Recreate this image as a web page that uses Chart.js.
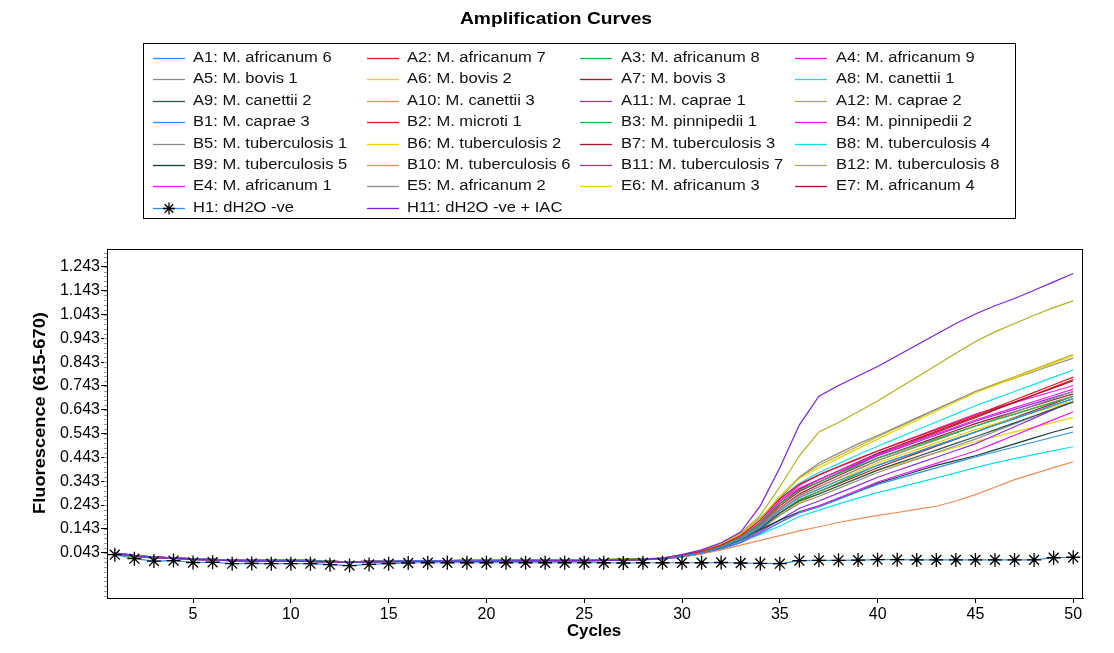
<!DOCTYPE html>
<html>
<head>
<meta charset="utf-8">
<script src="https://cdn.jsdelivr.net/npm/chart.js@4.4.1/dist/chart.umd.min.js"></script>
<style>
html,body{margin:0;padding:0;background:#fff;}
#wrap{position:relative;width:1114px;height:653px;}
</style>
</head>
<body>
<div id="wrap"><canvas id="c" width="1114" height="653"></canvas></div>
<script>
// ---------- DATA ----------
const chartTitle = "Amplification Curves";
const xTitle = "Cycles";
const yTitle = "Fluorescence (615-670)";
const cycles = [1,2,3,4,5,6,7,8,9,10,11,12,13,14,15,16,17,18,19,20,21,22,23,24,25,26,27,28,29,30,31,32,33,34,35,36,37,38,39,40,41,42,43,44,45,46,47,48,49,50];
const xTickValues = [5,10,15,20,25,30,35,40,45,50];
const yTickValues = [0.043,0.143,0.243,0.343,0.443,0.543,0.643,0.743,0.843,0.943,1.043,1.143,1.243];

const seriesNames = [
 "A1: M. africanum 6","A2: M. africanum 7","A3: M. africanum 8","A4: M. africanum 9",
 "A5: M. bovis 1","A6: M. bovis 2","A7: M. bovis 3","A8: M. canettii 1",
 "A9: M. canettii 2","A10: M. canettii 3","A11: M. caprae 1","A12: M. caprae 2",
 "B1: M. caprae 3","B2: M. microti 1","B3: M. pinnipedii 1","B4: M. pinnipedii 2",
 "B5: M. tuberculosis 1","B6: M. tuberculosis 2","B7: M. tuberculosis 3","B8: M. tuberculosis 4",
 "B9: M. tuberculosis 5","B10: M. tuberculosis 6","B11: M. tuberculosis 7","B12: M. tuberculosis 8",
 "E4: M. africanum 1","E5: M. africanum 2","E6: M. africanum 3","E7: M. africanum 4",
 "H1: dH2O -ve","H11: dH2O -ve + IAC"
];
const seriesColors = [
 "#2f8fef","#e5171f","#1fb84a","#f01cf0",
 "#8c8c8c","#ecd200","#9c1830","#12dfe8",
 "#2f5252","#f08a56","#8c2ee6","#b5ae1e",
 "#2f8fef","#e5171f","#1fb84a","#f01cf0",
 "#8c8c8c","#ecd200","#9c1830","#12dfe8",
 "#173c3c","#f08a56","#8c2ee6","#b5ae1e",
 "#f01cf0","#8c8c8c","#ecd200","#9c1830",
 "#2f8fef","#7b22d6"
];

const A1 = [0.042,0.032,0.025,0.022,0.017,0.015,0.012,0.011,0.010,0.010,0.009,0.007,0.005,0.007,0.008,0.009,0.009,0.009,0.010,0.010,0.010,0.011,0.011,0.011,0.012,0.012,0.013,0.015,
 0.017,0.028,0.043,0.066,0.100,0.150,0.220,0.275,0.310,0.345,0.378,0.410,0.438,0.466,0.494,0.522,0.550,0.578,0.606,0.634,0.662,0.690];
const A2 = [0.040,0.030,0.022,0.020,0.015,0.013,0.010,0.009,0.008,0.008,0.007,0.005,0.003,0.005,0.006,0.007,0.007,0.008,0.008,0.008,0.009,0.009,0.010,0.010,0.010,0.011,0.012,0.014,
 0.019,0.032,0.049,0.075,0.115,0.180,0.270,0.330,0.370,0.405,0.438,0.470,0.500,0.530,0.560,0.590,0.620,0.652,0.684,0.716,0.748,0.780];
const A3 = [0.038,0.028,0.021,0.019,0.016,0.014,0.011,0.010,0.012,0.012,0.011,0.007,0.004,0.006,0.008,0.009,0.010,0.010,0.011,0.011,0.012,0.012,0.012,0.013,0.013,0.014,0.015,0.017,
 0.018,0.030,0.046,0.070,0.108,0.165,0.250,0.305,0.340,0.375,0.408,0.440,0.467,0.494,0.521,0.548,0.575,0.600,0.625,0.650,0.675,0.700];
const A4 = [0.042,0.032,0.025,0.022,0.017,0.015,0.012,0.011,0.010,0.010,0.009,0.007,0.005,0.007,0.008,0.009,0.009,0.009,0.010,0.010,0.010,0.011,0.011,0.011,0.012,0.012,0.013,0.015,
 0.018,0.031,0.047,0.072,0.110,0.170,0.260,0.315,0.350,0.385,0.420,0.455,0.484,0.513,0.542,0.571,0.600,0.626,0.652,0.678,0.704,0.730];
const A5 = [0.040,0.030,0.022,0.020,0.015,0.013,0.010,0.009,0.008,0.008,0.007,0.005,0.003,0.005,0.006,0.007,0.007,0.008,0.008,0.008,0.009,0.009,0.010,0.010,0.010,0.011,0.012,0.014,
 0.017,0.029,0.044,0.068,0.103,0.155,0.230,0.285,0.320,0.357,0.394,0.430,0.459,0.488,0.517,0.546,0.575,0.604,0.633,0.662,0.691,0.720];
const A6 = [0.038,0.028,0.021,0.019,0.016,0.014,0.011,0.010,0.012,0.012,0.011,0.007,0.004,0.006,0.008,0.009,0.010,0.010,0.011,0.011,0.012,0.012,0.012,0.013,0.013,0.014,0.015,0.017,
 0.020,0.034,0.051,0.078,0.120,0.185,0.280,0.355,0.400,0.440,0.480,0.520,0.559,0.598,0.637,0.676,0.715,0.746,0.777,0.808,0.839,0.870];
const A7 = [0.042,0.032,0.025,0.022,0.017,0.015,0.012,0.011,0.010,0.010,0.009,0.007,0.005,0.007,0.008,0.009,0.009,0.009,0.010,0.010,0.010,0.011,0.011,0.011,0.012,0.012,0.013,0.015,
 0.018,0.030,0.046,0.070,0.108,0.165,0.250,0.310,0.350,0.387,0.424,0.460,0.491,0.522,0.553,0.584,0.615,0.645,0.675,0.705,0.735,0.765];
const A8 = [0.040,0.030,0.022,0.020,0.015,0.013,0.010,0.009,0.008,0.008,0.007,0.005,0.003,0.005,0.006,0.007,0.007,0.008,0.008,0.008,0.009,0.009,0.010,0.010,0.010,0.011,0.012,0.014,
 0.019,0.032,0.049,0.075,0.115,0.180,0.270,0.335,0.380,0.417,0.454,0.490,0.524,0.558,0.592,0.626,0.660,0.690,0.720,0.750,0.780,0.810];
const A9 = [0.038,0.028,0.021,0.019,0.016,0.014,0.011,0.010,0.012,0.012,0.011,0.007,0.004,0.006,0.008,0.009,0.010,0.010,0.011,0.011,0.012,0.012,0.012,0.013,0.013,0.014,0.015,0.017,
 0.017,0.028,0.042,0.064,0.097,0.145,0.210,0.260,0.290,0.323,0.356,0.390,0.418,0.446,0.474,0.502,0.530,0.559,0.588,0.617,0.646,0.675];
const A10 = [0.042,0.032,0.025,0.022,0.017,0.015,0.012,0.011,0.010,0.010,0.009,0.007,0.005,0.007,0.008,0.009,0.009,0.009,0.010,0.010,0.010,0.011,0.011,0.011,0.012,0.012,0.013,0.015,
 0.015,0.025,0.038,0.055,0.075,0.095,0.115,0.135,0.152,0.170,0.185,0.200,0.212,0.225,0.238,0.260,0.287,0.318,0.350,0.375,0.400,0.425];
const A11 = [0.040,0.030,0.022,0.020,0.015,0.013,0.010,0.009,0.008,0.008,0.007,0.005,0.003,0.005,0.006,0.007,0.007,0.008,0.008,0.008,0.009,0.009,0.010,0.010,0.010,0.011,0.012,0.014,
 0.018,0.030,0.046,0.070,0.108,0.165,0.250,0.305,0.340,0.377,0.414,0.450,0.479,0.508,0.537,0.566,0.595,0.620,0.645,0.670,0.695,0.720];
const A12 = [0.038,0.028,0.021,0.019,0.016,0.014,0.011,0.010,0.012,0.012,0.011,0.007,0.004,0.006,0.008,0.009,0.010,0.010,0.011,0.011,0.012,0.012,0.012,0.013,0.013,0.014,0.015,0.017,
 0.020,0.035,0.050,0.080,0.125,0.200,0.320,0.450,0.550,0.590,0.635,0.680,0.730,0.780,0.830,0.880,0.930,0.970,1.005,1.040,1.072,1.100];
const B1 = [0.042,0.032,0.025,0.022,0.017,0.015,0.012,0.011,0.010,0.010,0.009,0.007,0.005,0.007,0.008,0.009,0.009,0.009,0.010,0.010,0.010,0.011,0.011,0.011,0.012,0.012,0.013,0.015,
 0.016,0.026,0.039,0.058,0.085,0.125,0.170,0.210,0.235,0.267,0.299,0.330,0.353,0.376,0.399,0.422,0.445,0.466,0.487,0.508,0.529,0.550];
const B2 = [0.040,0.030,0.022,0.020,0.015,0.013,0.010,0.009,0.008,0.008,0.007,0.005,0.003,0.005,0.006,0.007,0.007,0.008,0.008,0.008,0.009,0.009,0.010,0.010,0.010,0.011,0.012,0.014,
 0.018,0.030,0.045,0.069,0.105,0.160,0.240,0.300,0.340,0.378,0.416,0.455,0.486,0.517,0.548,0.579,0.610,0.642,0.674,0.706,0.738,0.770];
const B3 = [0.038,0.028,0.021,0.019,0.016,0.014,0.011,0.010,0.012,0.012,0.011,0.007,0.004,0.006,0.008,0.009,0.010,0.010,0.011,0.011,0.012,0.012,0.012,0.013,0.013,0.014,0.015,0.017,
 0.017,0.028,0.043,0.065,0.098,0.145,0.210,0.265,0.300,0.337,0.374,0.410,0.438,0.466,0.494,0.522,0.550,0.578,0.606,0.634,0.662,0.690];
const B4 = [0.042,0.032,0.025,0.022,0.017,0.015,0.012,0.011,0.010,0.010,0.009,0.007,0.005,0.007,0.008,0.009,0.009,0.009,0.010,0.010,0.010,0.011,0.011,0.011,0.012,0.012,0.013,0.015,
 0.016,0.026,0.039,0.058,0.086,0.126,0.170,0.213,0.240,0.273,0.306,0.340,0.366,0.392,0.418,0.444,0.470,0.503,0.536,0.569,0.602,0.635];
const B5 = [0.040,0.030,0.022,0.020,0.015,0.013,0.010,0.009,0.008,0.008,0.007,0.005,0.003,0.005,0.006,0.007,0.007,0.008,0.008,0.008,0.009,0.009,0.010,0.010,0.010,0.011,0.012,0.014,
 0.020,0.034,0.052,0.080,0.120,0.190,0.270,0.360,0.420,0.460,0.500,0.535,0.572,0.609,0.646,0.683,0.720,0.748,0.776,0.804,0.832,0.860];
const B6 = [0.038,0.028,0.021,0.019,0.016,0.014,0.011,0.010,0.012,0.012,0.011,0.007,0.004,0.006,0.008,0.009,0.010,0.010,0.011,0.011,0.012,0.012,0.012,0.013,0.013,0.014,0.015,0.017,
 0.017,0.028,0.043,0.066,0.100,0.150,0.220,0.275,0.310,0.347,0.384,0.420,0.448,0.476,0.504,0.532,0.560,0.584,0.608,0.632,0.656,0.680];
const B7 = [0.042,0.032,0.025,0.022,0.017,0.015,0.012,0.011,0.010,0.010,0.009,0.007,0.005,0.007,0.008,0.009,0.009,0.009,0.010,0.010,0.010,0.011,0.011,0.011,0.012,0.012,0.013,0.015,
 0.017,0.029,0.044,0.068,0.103,0.155,0.230,0.290,0.330,0.367,0.404,0.440,0.469,0.498,0.527,0.556,0.585,0.610,0.635,0.660,0.685,0.710];
const B8 = [0.040,0.030,0.022,0.020,0.015,0.013,0.010,0.009,0.008,0.008,0.007,0.005,0.003,0.005,0.006,0.007,0.007,0.008,0.008,0.008,0.009,0.009,0.010,0.010,0.010,0.011,0.012,0.014,
 0.016,0.028,0.042,0.062,0.090,0.120,0.155,0.195,0.222,0.248,0.272,0.295,0.315,0.336,0.357,0.378,0.400,0.420,0.438,0.455,0.472,0.488];
const B9 = [0.038,0.028,0.021,0.019,0.016,0.014,0.011,0.010,0.012,0.012,0.011,0.007,0.004,0.006,0.008,0.009,0.010,0.010,0.011,0.011,0.012,0.012,0.012,0.013,0.013,0.014,0.015,0.017,
 0.017,0.030,0.045,0.068,0.100,0.140,0.180,0.215,0.240,0.270,0.300,0.335,0.360,0.385,0.410,0.430,0.450,0.475,0.500,0.525,0.550,0.572];
const B10 = [0.042,0.032,0.025,0.022,0.017,0.015,0.012,0.011,0.010,0.010,0.009,0.007,0.005,0.007,0.008,0.009,0.009,0.009,0.010,0.010,0.010,0.011,0.011,0.011,0.012,0.012,0.013,0.015,
 0.017,0.028,0.043,0.066,0.100,0.150,0.220,0.280,0.320,0.357,0.394,0.430,0.459,0.488,0.517,0.546,0.575,0.600,0.625,0.650,0.675,0.700];
const B11 = [0.040,0.030,0.022,0.020,0.015,0.013,0.010,0.009,0.008,0.008,0.007,0.005,0.003,0.005,0.006,0.007,0.007,0.008,0.008,0.008,0.009,0.009,0.010,0.010,0.010,0.011,0.012,0.014,
 0.016,0.027,0.040,0.060,0.090,0.132,0.180,0.230,0.260,0.293,0.326,0.360,0.388,0.416,0.444,0.472,0.500,0.536,0.572,0.608,0.644,0.680];
const B12 = [0.038,0.028,0.021,0.019,0.016,0.014,0.011,0.010,0.012,0.012,0.011,0.007,0.004,0.006,0.008,0.009,0.010,0.010,0.011,0.011,0.012,0.012,0.012,0.013,0.013,0.014,0.015,0.017,
 0.020,0.034,0.051,0.078,0.120,0.185,0.280,0.360,0.410,0.450,0.490,0.530,0.568,0.606,0.644,0.682,0.720,0.751,0.782,0.813,0.844,0.875];
const E4 = [0.042,0.032,0.025,0.022,0.017,0.015,0.012,0.011,0.010,0.010,0.009,0.007,0.005,0.007,0.008,0.009,0.009,0.009,0.010,0.010,0.010,0.011,0.011,0.011,0.012,0.012,0.013,0.015,
 0.018,0.031,0.047,0.072,0.110,0.170,0.260,0.325,0.370,0.403,0.436,0.470,0.501,0.532,0.563,0.594,0.625,0.649,0.673,0.697,0.721,0.745];
const E5 = [0.040,0.030,0.022,0.020,0.015,0.013,0.010,0.009,0.008,0.008,0.007,0.005,0.003,0.005,0.006,0.007,0.007,0.008,0.008,0.008,0.009,0.009,0.010,0.010,0.010,0.011,0.012,0.014,
 0.017,0.027,0.041,0.062,0.094,0.140,0.200,0.250,0.280,0.313,0.346,0.380,0.408,0.436,0.464,0.492,0.520,0.552,0.584,0.616,0.648,0.680];
const E6 = [0.038,0.028,0.021,0.019,0.016,0.014,0.011,0.010,0.012,0.012,0.011,0.007,0.004,0.006,0.008,0.009,0.010,0.010,0.011,0.011,0.012,0.012,0.012,0.013,0.013,0.014,0.015,0.017,
 0.017,0.027,0.041,0.062,0.094,0.140,0.200,0.255,0.290,0.323,0.356,0.390,0.414,0.438,0.462,0.486,0.510,0.530,0.550,0.570,0.590,0.610];
const E7 = [0.042,0.032,0.025,0.022,0.017,0.015,0.012,0.011,0.010,0.010,0.009,0.007,0.005,0.007,0.008,0.009,0.009,0.009,0.010,0.010,0.010,0.011,0.011,0.011,0.012,0.012,0.013,0.015,
 0.017,0.028,0.043,0.065,0.098,0.145,0.210,0.265,0.300,0.333,0.366,0.400,0.430,0.460,0.490,0.520,0.550,0.580,0.610,0.640,0.670,0.700];
const H1 = [0.035,0.018,0.008,0.010,0.002,0.003,-0.003,-0.002,-0.003,-0.003,-0.003,-0.007,-0.011,-0.006,-0.003,0.000,0.001,0.001,0.001,0.001,0.001,0.001,0.001,0.001,0.001,0.001,0.000,0.001,
 0.001,0.001,0.001,0.002,0.000,-0.002,-0.003,0.010,0.011,0.011,0.012,0.014,0.014,0.013,0.013,0.013,0.013,0.013,0.013,0.013,0.022,0.024];
const H11 = [0.040,0.030,0.022,0.020,0.015,0.013,0.010,0.009,0.008,0.008,0.007,0.005,0.003,0.005,0.006,0.007,0.007,0.008,0.008,0.008,0.009,0.009,0.010,0.010,0.010,0.011,0.012,0.014,
 0.020,0.035,0.055,0.085,0.130,0.240,0.400,0.580,0.700,0.745,0.785,0.825,0.870,0.915,0.960,1.005,1.045,1.080,1.110,1.145,1.180,1.215];

const seriesValues = [A1,A2,A3,A4,A5,A6,A7,A8,A9,A10,A11,A12,B1,B2,B3,B4,B5,B6,B7,B8,B9,B10,B11,B12,E4,E5,E6,E7,H1,H11];

// ---------- CHART ----------
const FONT = '"Liberation Sans", Arial, sans-serif';
const datasets = seriesValues.map((vals, i) => {
  const isH1 = seriesNames[i].startsWith("H1:");
  return {
    label: seriesNames[i],
    data: vals.map((v, k) => ({x: cycles[k], y: v})),
    borderColor: seriesColors[i],
    backgroundColor: seriesColors[i],
    borderWidth: 1.2,
    pointRadius: isH1 ? 7 : 0,
    pointStyle: 'star',
    pointBorderColor: '#000',
    pointBorderWidth: 1.3,
    pointHoverRadius: isH1 ? 7 : 0,
    tension: 0,
    fill: false,
    order: isH1 ? -2 : (seriesNames[i].startsWith("H11") ? -1 : i)
  };
});

function stretchText(ctx, text, x, y, sx, align) {
  ctx.save();
  ctx.translate(x, y);
  ctx.scale(sx, 1);
  ctx.textAlign = align;
  ctx.fillText(text, 0, 0);
  ctx.restore();
}

const overlay = {
  id: 'overlay',
  afterDraw(chart) {
    const ctx = chart.ctx, a = chart.chartArea, ys = chart.scales.y;
    ctx.save();
    // plot frame
    ctx.strokeStyle = '#000'; ctx.lineWidth = 1;
    ctx.strokeRect(Math.round(a.left) + 0.5, Math.round(a.top) + 0.5, Math.round(a.right - a.left) - 1, Math.round(a.bottom - a.top));
    // minor y ticks
    ctx.strokeStyle = '#9a9a9a';
    ctx.beginPath();
    for (let v = 0.043 - 0.18; v < 1.33; v += 0.02) {
      if (v < ys.min || v > ys.max) continue;
      const y = Math.round(ys.getPixelForValue(v)) + 0.5;
      ctx.moveTo(a.left - 3, y); ctx.lineTo(a.left, y);
    }
    ctx.stroke();
    // title
    ctx.fillStyle = '#000';
    ctx.textBaseline = 'middle';
    ctx.font = 'bold 16px ' + FONT;
    stretchText(ctx, chartTitle, 556, 20, 1.2, 'center');
    // axis titles
    ctx.font = 'bold 16px ' + FONT;
    stretchText(ctx, xTitle, 594, 632, 1.05, 'center');
    ctx.save();
    ctx.translate(41, 413);
    ctx.rotate(-Math.PI / 2);
    stretchText(ctx, yTitle, 0, 0, 1.14, 'center');
    ctx.restore();
    // legend
    const lx = 143, ly = 43, lw = 872, lh = 175;
    ctx.strokeStyle = '#000'; ctx.lineWidth = 1;
    ctx.strokeRect(lx + 0.5, ly + 0.5, lw, lh);
    const colLine = [153, 367, 580, 795];
    const colText = [193, 407, 621, 836];
    ctx.font = '14px ' + FONT;
    ctx.textBaseline = 'middle';
    chart.data.datasets.forEach((ds, i) => {
      const r = Math.floor(i / 4), c = i % 4;
      const y = Math.round(58 + r * 21.4) + 0.5;
      ctx.strokeStyle = ds.borderColor; ctx.lineWidth = 1.3;
      ctx.beginPath(); ctx.moveTo(colLine[c], y); ctx.lineTo(colLine[c] + 32, y); ctx.stroke();
      if (ds.pointRadius > 0) {
        const cx = colLine[c] + 16, s = 6;
        ctx.strokeStyle = '#000'; ctx.lineWidth = 1.3;
        ctx.beginPath();
        ctx.moveTo(cx - s, y); ctx.lineTo(cx + s, y);
        ctx.moveTo(cx, y - s); ctx.lineTo(cx, y + s);
        const d = s * 0.707;
        ctx.moveTo(cx - d, y - d); ctx.lineTo(cx + d, y + d);
        ctx.moveTo(cx - d, y + d); ctx.lineTo(cx + d, y - d);
        ctx.stroke();
      }
      ctx.fillStyle = '#111';
      stretchText(ctx, ds.label, colText[c], y, 1.18, 'left');
    });
    ctx.restore();
  }
};

new Chart(document.getElementById('c'), {
  type: 'line',
  data: { datasets },
  options: {
    responsive: false,
    animation: false,
    devicePixelRatio: 1,
    events: [],
    layout: { padding: { top: 249, right: 31, left: 0, bottom: 0 } },
    plugins: { legend: { display: false }, title: { display: false }, tooltip: { enabled: false } },
    scales: {
      x: {
        type: 'linear', min: 0.6, max: 50.5,
        afterBuildTicks(s) { s.ticks = xTickValues.map(v => ({ value: v })); },
        afterFit(s) { s.height = 55; s.paddingLeft = 0; s.paddingRight = 0; },
        grid: { display: true, drawOnChartArea: false, drawTicks: true, tickLength: 5, color: '#000' },
        border: { display: true, color: '#000' },
        ticks: { color: '#000', font: { family: FONT, size: 16 }, padding: 2, maxRotation: 0, autoSkip: false }
      },
      y: {
        type: 'linear', min: -0.147, max: 1.318,
        afterBuildTicks(s) { s.ticks = yTickValues.map(v => ({ value: v })); },
        afterFit(s) { s.width = 107; s.paddingTop = 0; s.paddingBottom = 0; },
        grid: { display: true, drawOnChartArea: false, drawTicks: true, tickLength: 6, color: '#000' },
        border: { display: true, color: '#000' },
        ticks: { color: '#000', font: { family: FONT, size: 16 }, padding: 1, autoSkip: false,
                 callback: v => Number(v).toFixed(3) }
      }
    }
  },
  plugins: [overlay]
});
</script>
</body>
</html>
